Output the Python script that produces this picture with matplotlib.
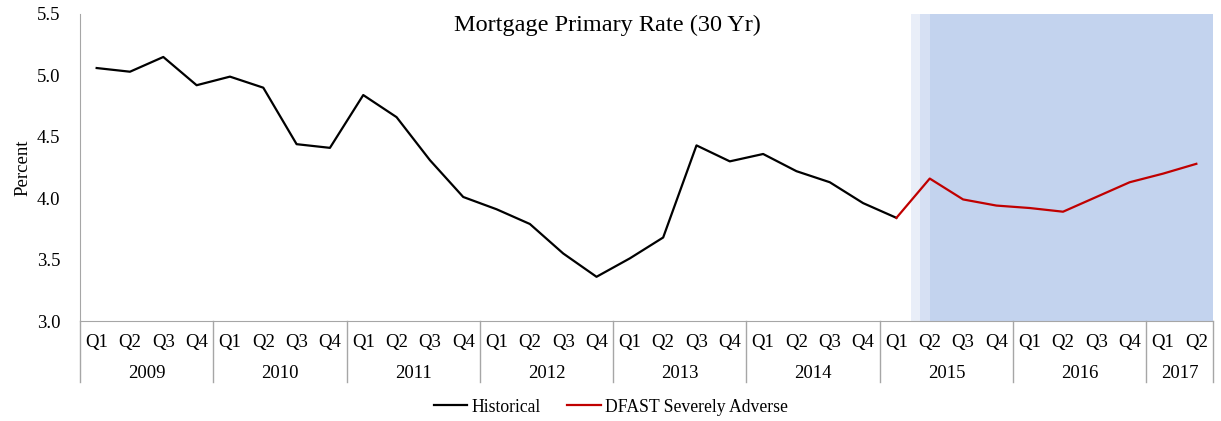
import numpy as np
import matplotlib
matplotlib.use("Agg")
import matplotlib.pyplot as plt
import matplotlib.transforms as mtransforms

plt.rcParams['font.family'] = ['Liberation Serif', 'DejaVu Serif']

#### data
years = ['2009', '2010', '2011', '2012', '2013', '2014', '2015', '2016', '2017']
quarters_per_year = [4, 4, 4, 4, 4, 4, 4, 4, 2]
historical = [5.06, 5.03, 5.15, 4.92, 4.99, 4.90, 4.44, 4.41,
              4.84, 4.66, 4.31, 4.01, 3.91, 3.79, 3.55, 3.36,
              3.51, 3.68, 4.43, 4.30, 4.36, 4.22, 4.13, 3.96, 3.84]
severely_adverse = [3.84, 4.16, 3.99, 3.94, 3.92, 3.89, 4.01, 4.13, 4.20, 4.28]
y_ticks = [3.0, 3.5, 4.0, 4.5, 5.0, 5.5]

quarter_labels = []
for n in quarters_per_year:
    quarter_labels += ['Q%d' % (i + 1) for i in range(n)]
n_q = len(quarter_labels)
x_hist = np.arange(len(historical))
x_adv = np.arange(len(historical) - 1, len(historical) - 1 + len(severely_adverse))

fig = plt.figure(figsize=(12.21, 4.21), dpi=100)
ax = fig.add_axes([80 / 1221, 100 / 421, 1133 / 1221, 307 / 421])

grey = '#A6A6A6'
fs = 13.5

## shaded scenario region
ax.axvspan(24.45, 24.72, color='#E9EEF8', lw=0, zorder=0)
ax.axvspan(24.72, 25.0, color='#D6E0F3', lw=0, zorder=0)
ax.axvspan(25.0, n_q - 0.5, color='#C3D3EE', lw=0, zorder=0)

l1, = ax.plot(x_hist, historical, color='black', lw=1.6, label='Historical', zorder=3)
l2, = ax.plot(x_adv, severely_adverse, color='#C00000', lw=1.6,
              label='DFAST Severely Adverse', zorder=3)

ax.set_xlim(-0.5, n_q - 0.5)
ax.set_ylim(3.0, 5.5)
ax.set_yticks(y_ticks)
ax.set_yticklabels(['%.1f' % v for v in y_ticks], fontsize=fs)
ax.tick_params(axis='y', length=0, pad=14)
ax.set_xticks([])
for s in ['top', 'right']:
    ax.spines[s].set_visible(False)
ax.spines['left'].set_color(grey)
ax.spines['bottom'].set_color(grey)
ax.set_ylabel('Percent', fontsize=fs, labelpad=4)

## multi-level category axis
trans = mtransforms.blended_transform_factory(ax.transData, ax.transAxes)
px = 1 / 307.0
for i, q in enumerate(quarter_labels):
    ax.text(i, -21 * px, q, transform=trans, ha='center', va='center', fontsize=fs)
start = 0
bounds = [-0.5]
for y, n in zip(years, quarters_per_year):
    ax.text(start + (n - 1) / 2.0, -52 * px, y, transform=trans, ha='center',
            va='center', fontsize=fs)
    start += n
    bounds.append(start - 0.5)
for b in bounds:
    ax.plot([b, b], [0, -61 * px], transform=trans, color=grey, lw=1, clip_on=False)

fig.text(607 / 1221, 1 - 25 / 421, 'Mortgage Primary Rate (30 Yr)', ha='center',
         va='center', fontsize=17.5)

fig.legend(handles=[l1, l2], loc='center', bbox_to_anchor=(611 / 1221, 1 - 407 / 421),
           ncol=2, frameon=False, fontsize=12.7, handlelength=1.9, handletextpad=0.25,
           columnspacing=1.5)

fig.savefig('out.png', dpi=100)
